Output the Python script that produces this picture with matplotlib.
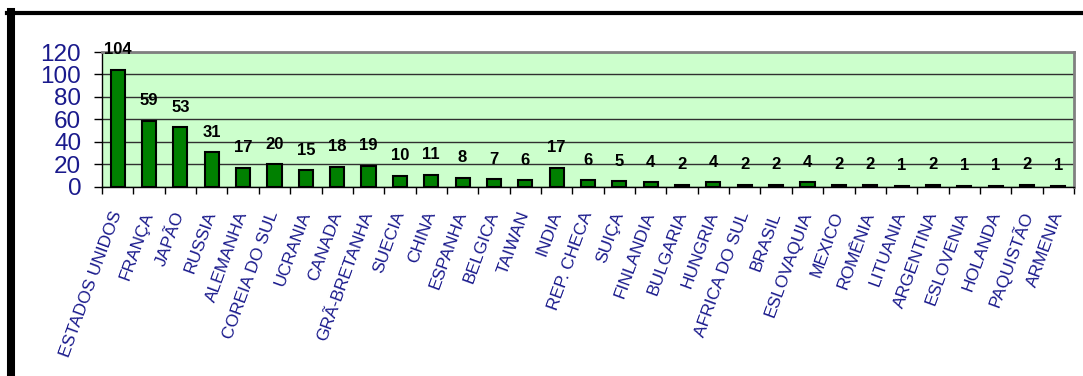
import matplotlib.pyplot as plt
import numpy as np
from matplotlib.lines import Line2D

# countries and number of reactors
paises = ["ESTADOS UNIDOS", "FRANÇA", "JAPÃO", "RUSSIA", "ALEMANHA", "COREIA DO SUL",
          "UCRANIA", "CANADA", "GRÃ-BRETANHA", "SUECIA", "CHINA", "ESPANHA", "BELGICA",
          "TAIWAN", "INDIA", "REP. CHECA", "SUIÇA", "FINLANDIA", "BULGARIA", "HUNGRIA",
          "AFRICA DO SUL", "BRASIL", "ESLOVAQUIA", "MEXICO", "ROMÊNIA", "LITUANIA",
          "ARGENTINA", "ESLOVENIA", "HOLANDA", "PAQUISTÃO", "ARMENIA"]
reatores = [104, 59, 53, 31, 17, 20, 15, 18, 19, 10, 11, 8, 7, 6, 17, 6, 5, 4, 2, 4,
            2, 2, 4, 2, 2, 1, 2, 1, 1, 2, 1]
yticks = [0, 20, 40, 60, 80, 100, 120]

plt.rcParams['font.family'] = ['Liberation Sans', 'DejaVu Sans']
azul = '#1a1a8c'

fig = plt.figure(figsize=(10.83, 3.76), dpi=100)
ax = fig.add_axes([0.0942, 0.5027, 0.8975, 0.359])
ax.set_facecolor('#ccffcc')

x = np.arange(len(paises))
ax.bar(x, reatores, width=0.45, color='#008000', edgecolor='black', linewidth=1.5, zorder=3)

# value labels above each bar
for xi, v in zip(x, reatores):
    ax.annotate(str(v), (xi, v), xytext=(0, 9), textcoords='offset points',
                ha='center', va='bottom', fontsize=12, fontweight='bold',
                color='black', clip_on=False, zorder=4)

ax.set_xlim(-0.5, len(paises) - 0.5)
ax.set_ylim(0, 120)
ax.set_yticks(yticks)
ax.set_yticklabels([str(t) for t in yticks], color=azul, fontsize=17.5)
ax.tick_params(axis='y', direction='out', length=6, width=1, pad=9)

# labels at bar centres, ticks at category boundaries
ax.set_xticks(x)
ax.set_xticklabels(paises, rotation=70, ha='right', va='center',
                   rotation_mode='anchor', color=azul, fontsize=12.5)
ax.tick_params(axis='x', which='major', length=0, pad=18)
ax.set_xticks(np.arange(len(paises) + 1) - 0.5, minor=True)
ax.tick_params(axis='x', which='minor', direction='out', length=5, width=1)

ax.yaxis.grid(True, color='#303030', linewidth=1)
ax.set_axisbelow(True)
for s in ['left', 'bottom']:
    ax.spines[s].set_color('black')
    ax.spines[s].set_linewidth(1)
for s in ['top', 'right']:
    ax.spines[s].set_color('#808080')
    ax.spines[s].set_linewidth(2)

# outer frame
fig.add_artist(Line2D([0.0065, 1.0], [0.9654, 0.9654], color='black', linewidth=3,
                      transform=fig.transFigure))
fig.add_artist(Line2D([0.0102, 0.0102], [0.0, 0.969], color='black', linewidth=5.8,
                      transform=fig.transFigure))

fig.savefig('out.png', dpi=100)
